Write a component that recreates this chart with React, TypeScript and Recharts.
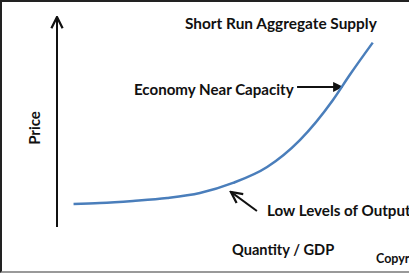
import { Line, LineChart, ReferenceLine, XAxis, YAxis } from 'recharts';

// Quantity (0-100) vs price (0-100)
const quantity = [4.7, 12.2, 21.6, 31.3, 40.6, 50.0, 59.7, 69.0, 78.4, 83.2, 89.7];
const price = [11.0, 11.4, 12.4, 13.8, 16.2, 21.0, 28.6, 41.4, 60.5, 72.5, 87.8];

const titleText = 'Short Run Aggregate Supply';
const nearCapacityText = 'Economy Near Capacity';
const lowOutputText = 'Low Levels of Output';
const xLabel = 'Quantity / GDP';
const yLabel = 'Price';
const copyText = 'Copyright';

const data = quantity.map((q, i) => ({ q, p: price[i] }));

const W = 409;
const H = 273;
const FONT = 'Lato, "Open Sans", sans-serif';
const INK = '#111';

export default function App() {
  return (
    <div style={{ position: 'absolute', left: 0, top: 0, width: W, height: H, background: '#fff', overflow: 'hidden' }}>
      <LineChart width={W} height={H} data={data} margin={{ top: 17, right: 0, left: 57, bottom: 46 }}>
        <defs>
          <marker id="arrowOpen" viewBox="0 0 10 10" refX="9" refY="5" markerWidth="7" markerHeight="7" orient="auto">
            <path d="M1,1 L9,5 L1,9" fill="none" stroke={INK} strokeWidth={1.6} />
          </marker>
          <marker id="arrowSolid" viewBox="0 0 10 10" refX="9" refY="5" markerWidth="5" markerHeight="5" orient="auto">
            <path d="M0,0 L10,5 L0,10 z" fill={INK} />
          </marker>
        </defs>
        <XAxis
          dataKey="q"
          type="number"
          domain={[0, 100]}
          height={0}
          tick={false}
          tickLine={false}
          axisLine={{ stroke: INK, strokeWidth: 2 }}
        />
        <YAxis type="number" domain={[0, 100]} width={0} tick={false} tickLine={false} axisLine={false} />
        <ReferenceLine
          segment={[{ x: 0, y: 0 }, { x: 0, y: 100 }]}
          stroke={INK}
          strokeWidth={2}
          markerEnd="url(#arrowOpen)"
          ifOverflow="visible"
        />
        <ReferenceLine
          segment={[{ x: 68.2, y: 66.7 }, { x: 81.0, y: 66.7 }]}
          stroke={INK}
          strokeWidth={2}
          markerEnd="url(#arrowSolid)"
        />
        <ReferenceLine
          segment={[{ x: 56.8, y: 7.6 }, { x: 49.4, y: 16.7 }]}
          stroke={INK}
          strokeWidth={2}
          markerEnd="url(#arrowOpen)"
        />
        <Line
          type="monotone"
          dataKey="p"
          stroke="#4a7ebb"
          strokeWidth={2.5}
          dot={false}
          activeDot={false}
          isAnimationActive={false}
        />
        <g fontFamily={FONT} fontWeight={700} fill={INK}>
          <text x={185} y={29} fontSize={15.4}>{titleText}</text>
          <text x={134} y={95} fontSize={15.1}>{nearCapacityText}</text>
          <text x={267} y={216} fontSize={15.2}>{lowOutputText}</text>
          <text x={232} y={255} fontSize={14.6}>{xLabel}</text>
          <text x={376} y={263} fontSize={12.5}>{copyText}</text>
          <text x={40} y={128} fontSize={15} textAnchor="middle" transform="rotate(-90 40 128)">{yLabel}</text>
        </g>
      </LineChart>
      <div
        style={{
          position: 'absolute',
          left: 0,
          top: 0,
          width: W,
          height: H,
          boxSizing: 'border-box',
          borderTop: '2px solid #222',
          borderLeft: '2px solid #222',
          borderBottom: '2px solid #999',
          pointerEvents: 'none',
        }}
      />
    </div>
  );
}
